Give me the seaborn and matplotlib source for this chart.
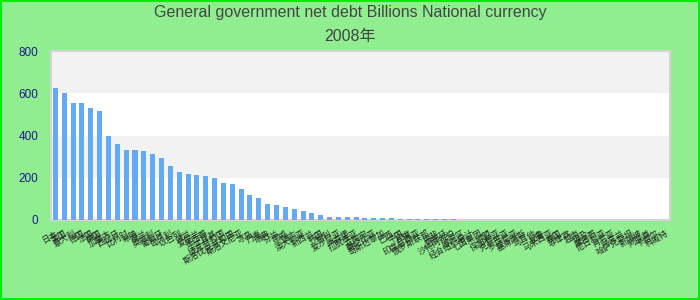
import matplotlib
matplotlib.use("Agg")
import matplotlib.pyplot as plt
import seaborn as sns
import pandas as pd

countries = ["日本", "美国", "意大利", "德国", "法国", "英国", "加拿大", "西班牙", "比利时", "希腊",
             "荷兰", "奥地利", "葡萄牙", "匈牙利", "以色列", "波兰", "爱尔兰", "墨西哥", "土耳其", "捷克共和国",
             "斯洛伐克共和国", "斯洛文尼亚", "冰岛", "丹麦", "瑞典", "芬兰", "挪威", "瑞士", "澳大利亚", "新西兰",
             "韩国", "智利", "爱沙尼亚", "卢森堡", "拉脱维亚", "立陶宛", "哥伦比亚", "哥斯达黎加", "巴西", "中国",
             "印度", "印度尼西亚", "俄罗斯联邦", "南非", "阿根廷", "沙特阿拉伯", "欧元区", "经合组织总计", "七国集团", "欧盟",
             "保加利亚", "克罗地亚", "罗马尼亚", "塞浦路斯", "马耳他", "秘鲁", "马来西亚", "泰国", "菲律宾", "越南",
             "埃及", "摩洛哥", "尼日利亚", "肯尼亚", "乌克兰", "哈萨克斯坦", "新加坡", "阿联酋", "卡塔尔", "科威特"]

net_debt = [625, 601, 554, 554, 530, 516, 398, 360, 331, 331,
            327, 312, 293, 256, 227, 218, 213, 208, 199, 175,
            170, 147, 118, 104, 76, 71, 62, 52, 43, 33,
            24, 14, 14, 14, 14, 10, 10, 10, 10, 6,
            6, 6, 6, 6, 6, 6]
net_debt = net_debt + [0] * (len(countries) - len(net_debt))

title_line1 = "General government net debt Billions National currency"
title_line2 = "2008年"
y_ticks = [0, 200, 400, 600, 800]

df = pd.DataFrame({"country": countries, "value": net_debt})

fig = plt.figure(figsize=(7, 3), dpi=100)
fig.patch.set_facecolor("#90EE90")
fig.patch.set_edgecolor("#00EE00")
fig.patch.set_linewidth(1.5)

ax = fig.add_axes([51 / 700, 1 - 220 / 300, (670 - 51) / 700, (220 - 51) / 300])
ax.set_facecolor("white")
ax.axhspan(200, 400, color="#F2F2F2", zorder=0, lw=0)
ax.axhspan(600, 800, color="#F2F2F2", zorder=0, lw=0)

sns.barplot(data=df, x="country", y="value", color="#63AAF5", saturation=1,
            width=0.57, ax=ax, zorder=3)

ax.set_xlim(-0.5, len(countries) - 0.5)
ax.set_ylim(0, 800)
ax.set_yticks(y_ticks)
ax.set_yticklabels([str(v) for v in y_ticks], color="#1A1A8C", fontsize=8.5,
                   family=["Liberation Sans", "DejaVu Sans"])
ax.tick_params(axis="both", length=0)
ax.tick_params(axis="y", pad=9)
ax.tick_params(axis="x", pad=6)
ax.set_xticks(range(len(countries)))
ax.set_xticklabels(countries, rotation=30, ha="right", rotation_mode="anchor",
                   fontsize=6, color="#222222",
                   family=["Noto Sans CJK SC", "DejaVu Sans"])
ax.set_xlabel("")
ax.set_ylabel("")
ax.grid(False)
for s in ax.spines.values():
    s.set_color("#D4D4D4")
    s.set_linewidth(1.5)
    s.set_zorder(2.5)

fig.text(0.5, 1 - 13 / 300, title_line1, ha="center", va="center", fontsize=11.5,
         color="#444444", family=["Liberation Sans", "Noto Sans CJK SC"])
fig.text(0.5, 1 - 37 / 300, title_line2, ha="center", va="center", fontsize=11.5,
         color="#444444", family=["Liberation Sans", "Noto Sans CJK SC"])

fig.savefig("out.png", dpi=100, facecolor=fig.get_facecolor(),
            edgecolor=fig.get_edgecolor())
